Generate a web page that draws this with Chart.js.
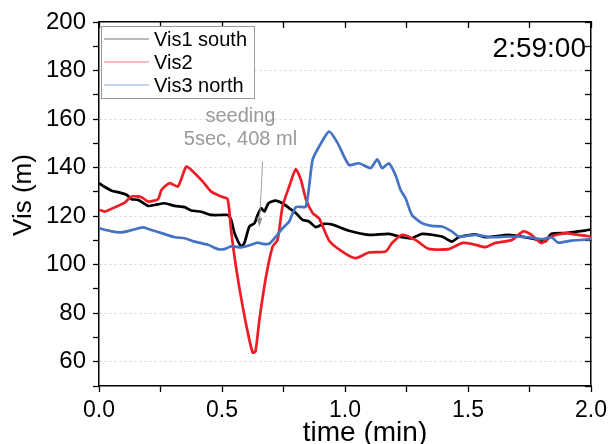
<!DOCTYPE html>
<html>
<head>
<meta charset="utf-8">
<script src="https://cdn.jsdelivr.net/npm/chart.js@4"></script>
<style>
  html, body { margin: 0; padding: 0; background: #fff; }
  #wrap { width: 612px; height: 444px; }
</style>
</head>
<body>
<div id="wrap"><canvas id="c" width="612" height="444"></canvas></div>
<script>
'use strict';

// ── data ──
const blackT = [0,0.024,0.051,0.085,0.112,0.132,0.159,0.2,0.227,0.267,0.308,0.348,0.375,0.416,0.456,0.503,0.523,0.537,0.551,0.578,0.591,0.611,0.632,0.645,0.659,0.672,0.689,0.717,0.746,0.773,0.8,0.827,0.854,0.881,0.915,0.949,1.016,1.097,1.178,1.232,1.272,1.313,1.394,1.434,1.462,1.529,1.57,1.664,1.732,1.785,1.813,1.839,1.894,1.974,2.0];
const blackV = [133.6,132,130.5,129.7,128.8,127,126.7,124.2,124.6,125.3,124.2,123.7,122.3,121.8,120.5,120.5,120.5,118.5,113,107.5,108.9,115.7,117.1,120.5,123.3,121.9,125.3,126.4,125.3,123.3,121.3,118.5,117.8,115.5,116.8,116.5,114,112.3,112.7,111.3,110.9,112.7,111.6,109.5,111.3,112.5,111.3,112.3,111.3,110.2,109.5,112.7,113,114,114.5];

const redT = [0,0.024,0.065,0.105,0.132,0.173,0.2,0.24,0.254,0.287,0.321,0.355,0.389,0.422,0.456,0.497,0.523,0.537,0.557,0.584,0.611,0.625,0.636,0.652,0.679,0.706,0.726,0.746,0.773,0.8,0.821,0.841,0.868,0.895,0.935,0.989,1.043,1.097,1.165,1.191,1.232,1.286,1.34,1.421,1.475,1.515,1.57,1.61,1.678,1.725,1.758,1.798,1.839,1.894,1.947,2.0];
const redV = [122.6,121.9,123.7,125.6,128.1,127.8,126,127,130.8,133.6,132.2,140.4,137.7,134.2,130.1,128.1,127,114,99,82.8,69.1,63.8,64.2,77.3,95.1,107.5,110.2,124,132.2,139.3,134.9,127,121.3,119,110,105.4,102.7,105,105.4,108.9,112.3,110.2,106.5,106.4,108.9,108.6,107.2,108.9,110.2,113.7,112.3,108.9,111.6,113,112.3,111.6];

const blueT = [0,0.051,0.092,0.146,0.18,0.213,0.254,0.308,0.348,0.389,0.443,0.483,0.51,0.537,0.578,0.618,0.645,0.665,0.692,0.719,0.746,0.773,0.8,0.841,0.868,0.895,0.935,0.968,1.016,1.057,1.104,1.131,1.151,1.178,1.205,1.226,1.246,1.272,1.313,1.353,1.394,1.434,1.462,1.529,1.596,1.664,1.745,1.799,1.839,1.866,1.92,2.0];
const blueV = [115,113.7,113.3,114.6,115.4,114.3,113,111.3,110.9,109.5,108.2,106.4,106.4,107.5,107.1,108.2,109.1,108.6,108.6,111.6,115,117.8,123.7,124,143.2,148.7,154.8,150.5,141.1,141.8,139.8,143.4,139.8,141.8,137,130.8,127.4,120.5,117.1,116,115.7,113.7,111.6,112.3,111.3,111.6,111.3,110.5,111.3,109.1,109.9,110.5];

const seriesNames = ['Vis1 south', 'Vis2', 'Vis3 north'];
const seriesColors = ['#000000', '#ee1c25', '#4472c4'];
const timeLabel = '2:59:00';
const noteLines = ['seeding', '5sec, 408 ml'];
const xTitle = 'time (min)';
const yTitle = 'Vis (m)';

const FONT = 'Liberation Sans, Arial, sans-serif';

function pts(t, v) {
  return t.map(function(x, i) { return { x: x, y: v[i] }; });
}

function fixSize(prop, val) {
  return function(s) { s[prop] = val; };
}

// legend box, axis titles, time stamp, seeding note
const extras = {
  id: 'extras',
  afterDraw: function(chart) {
    const ctx = chart.ctx;
    const xs = chart.scales.x, ys = chart.scales.y;
    ctx.save();

    // legend box
    ctx.fillStyle = '#fff';
    ctx.fillRect(101, 26, 153, 72);
    ctx.strokeStyle = '#9a9a9a';
    ctx.lineWidth = 1;
    ctx.strokeRect(101.5, 26.5, 153, 72);
    ctx.font = '20px ' + FONT;
    ctx.textBaseline = 'middle';
    ctx.textAlign = 'left';
    seriesNames.forEach(function(name, i) {
      const y = 39 + i * 23;
      ctx.strokeStyle = i === 0 ? '#555' : seriesColors[i];
      ctx.globalAlpha = i === 0 ? 0.8 : 0.6;
      ctx.lineWidth = 1.2;
      ctx.beginPath();
      ctx.moveTo(104, y);
      ctx.lineTo(149, y);
      ctx.stroke();
      ctx.globalAlpha = 1;
      ctx.fillStyle = '#000';
      ctx.fillText(name, 154, y + 1);
    });

    // axis titles
    ctx.fillStyle = '#000';
    ctx.font = '28px ' + FONT;
    ctx.textAlign = 'center';
    ctx.fillText(xTitle, 365, 433);
    ctx.save();
    ctx.translate(24, 195);
    ctx.rotate(-Math.PI / 2);
    ctx.font = '26px ' + FONT;
    ctx.fillText(yTitle, 0, 0);
    ctx.restore();

    // time stamp
    ctx.font = '28px ' + FONT;
    ctx.textAlign = 'right';
    ctx.fillText(timeLabel, 586, 49);

    // seeding note
    ctx.font = '20px ' + FONT;
    ctx.textAlign = 'center';
    ctx.fillStyle = '#999999';
    ctx.fillText(noteLines[0], xs.getPixelForValue(0.575), ys.getPixelForValue(161));
    ctx.fillText(noteLines[1], xs.getPixelForValue(0.575), ys.getPixelForValue(151.5));

    const ax = xs.getPixelForValue(0.665), ay = ys.getPixelForValue(142.5);
    const bx = xs.getPixelForValue(0.652), by = ys.getPixelForValue(116.5);
    ctx.strokeStyle = '#a0a0a0';
    ctx.lineWidth = 1;
    ctx.beginPath();
    ctx.moveTo(ax, ay);
    ctx.lineTo(bx, by);
    ctx.stroke();
    ctx.fillStyle = '#909090';
    ctx.beginPath();
    ctx.moveTo(bx, by + 2);
    ctx.lineTo(bx - 3, by - 7);
    ctx.lineTo(bx + 3, by - 7);
    ctx.closePath();
    ctx.fill();

    ctx.restore();
  }
};

const lineDs = function(i, data) {
  return {
    label: seriesNames[i],
    data: data,
    borderColor: seriesColors[i],
    borderWidth: 2.7,
    pointRadius: 0,
    tension: 0.2,
    fill: false
  };
};

new Chart(document.getElementById('c'), {
  type: 'line',
  data: {
    datasets: [
      lineDs(2, pts(blueT, blueV)),
      lineDs(1, pts(redT, redV)),
      lineDs(0, pts(blackT, blackV))
    ]
  },
  plugins: [extras],
  options: {
    responsive: false,
    animation: false,
    layout: { padding: 0 },
    plugins: {
      legend: { display: false },
      tooltip: { enabled: false }
    },
    scales: {
      x: {
        type: 'linear',
        position: 'bottom',
        min: 0, max: 2,
        afterFit: fixSize('height', 58),
        ticks: {
          stepSize: 0.25,
          autoSkip: false,
          padding: 5,
          color: '#000',
          font: { family: FONT, size: 23 },
          maxRotation: 0,
          callback: function(v) {
            return Math.abs(v * 2 - Math.round(v * 2)) < 1e-6 ? v.toFixed(1) : '';
          }
        },
        grid: { drawOnChartArea: false, tickLength: 6, tickColor: '#000', tickWidth: 1.3 },
        border: { color: '#000', width: 1.5 }
      },
      x2: {
        type: 'linear',
        position: 'top',
        min: 0, max: 2,
        afterFit: fixSize('height', 22),
        ticks: { stepSize: 0.25, autoSkip: false, display: false },
        grid: { drawOnChartArea: false, tickLength: -6, tickColor: '#000', tickWidth: 1.3 },
        border: { color: '#000', width: 1.5 }
      },
      y: {
        position: 'left',
        min: 50, max: 200,
        afterFit: fixSize('width', 99),
        ticks: {
          stepSize: 10,
          autoSkip: false,
          padding: 7,
          color: '#000',
          font: { family: FONT, size: 24 },
          callback: function(v) { return Math.round(v) % 20 === 0 ? String(Math.round(v)) : ''; }
        },
        grid: {
          color: function(c) {
            const v = c.tick ? Math.round(c.tick.value) : null;
            return (v !== null && v % 20 === 0 && v > 50 && v < 200) ? '#d4d4d4' : 'rgba(0,0,0,0)';
          },
          lineWidth: 1,
          tickLength: 6,
          tickColor: '#000',
          tickWidth: 1.3
        },
        border: { color: '#000', width: 1.5, dash: [2, 3] }
      },
      y2: {
        position: 'right',
        min: 50, max: 200,
        afterFit: fixSize('width', 19),
        ticks: { stepSize: 10, autoSkip: false, display: false },
        grid: { drawOnChartArea: false, tickLength: -6, tickColor: '#000', tickWidth: 1.3 },
        border: { color: '#000', width: 1.5 }
      }
    }
  }
});
</script>
</body>
</html>
